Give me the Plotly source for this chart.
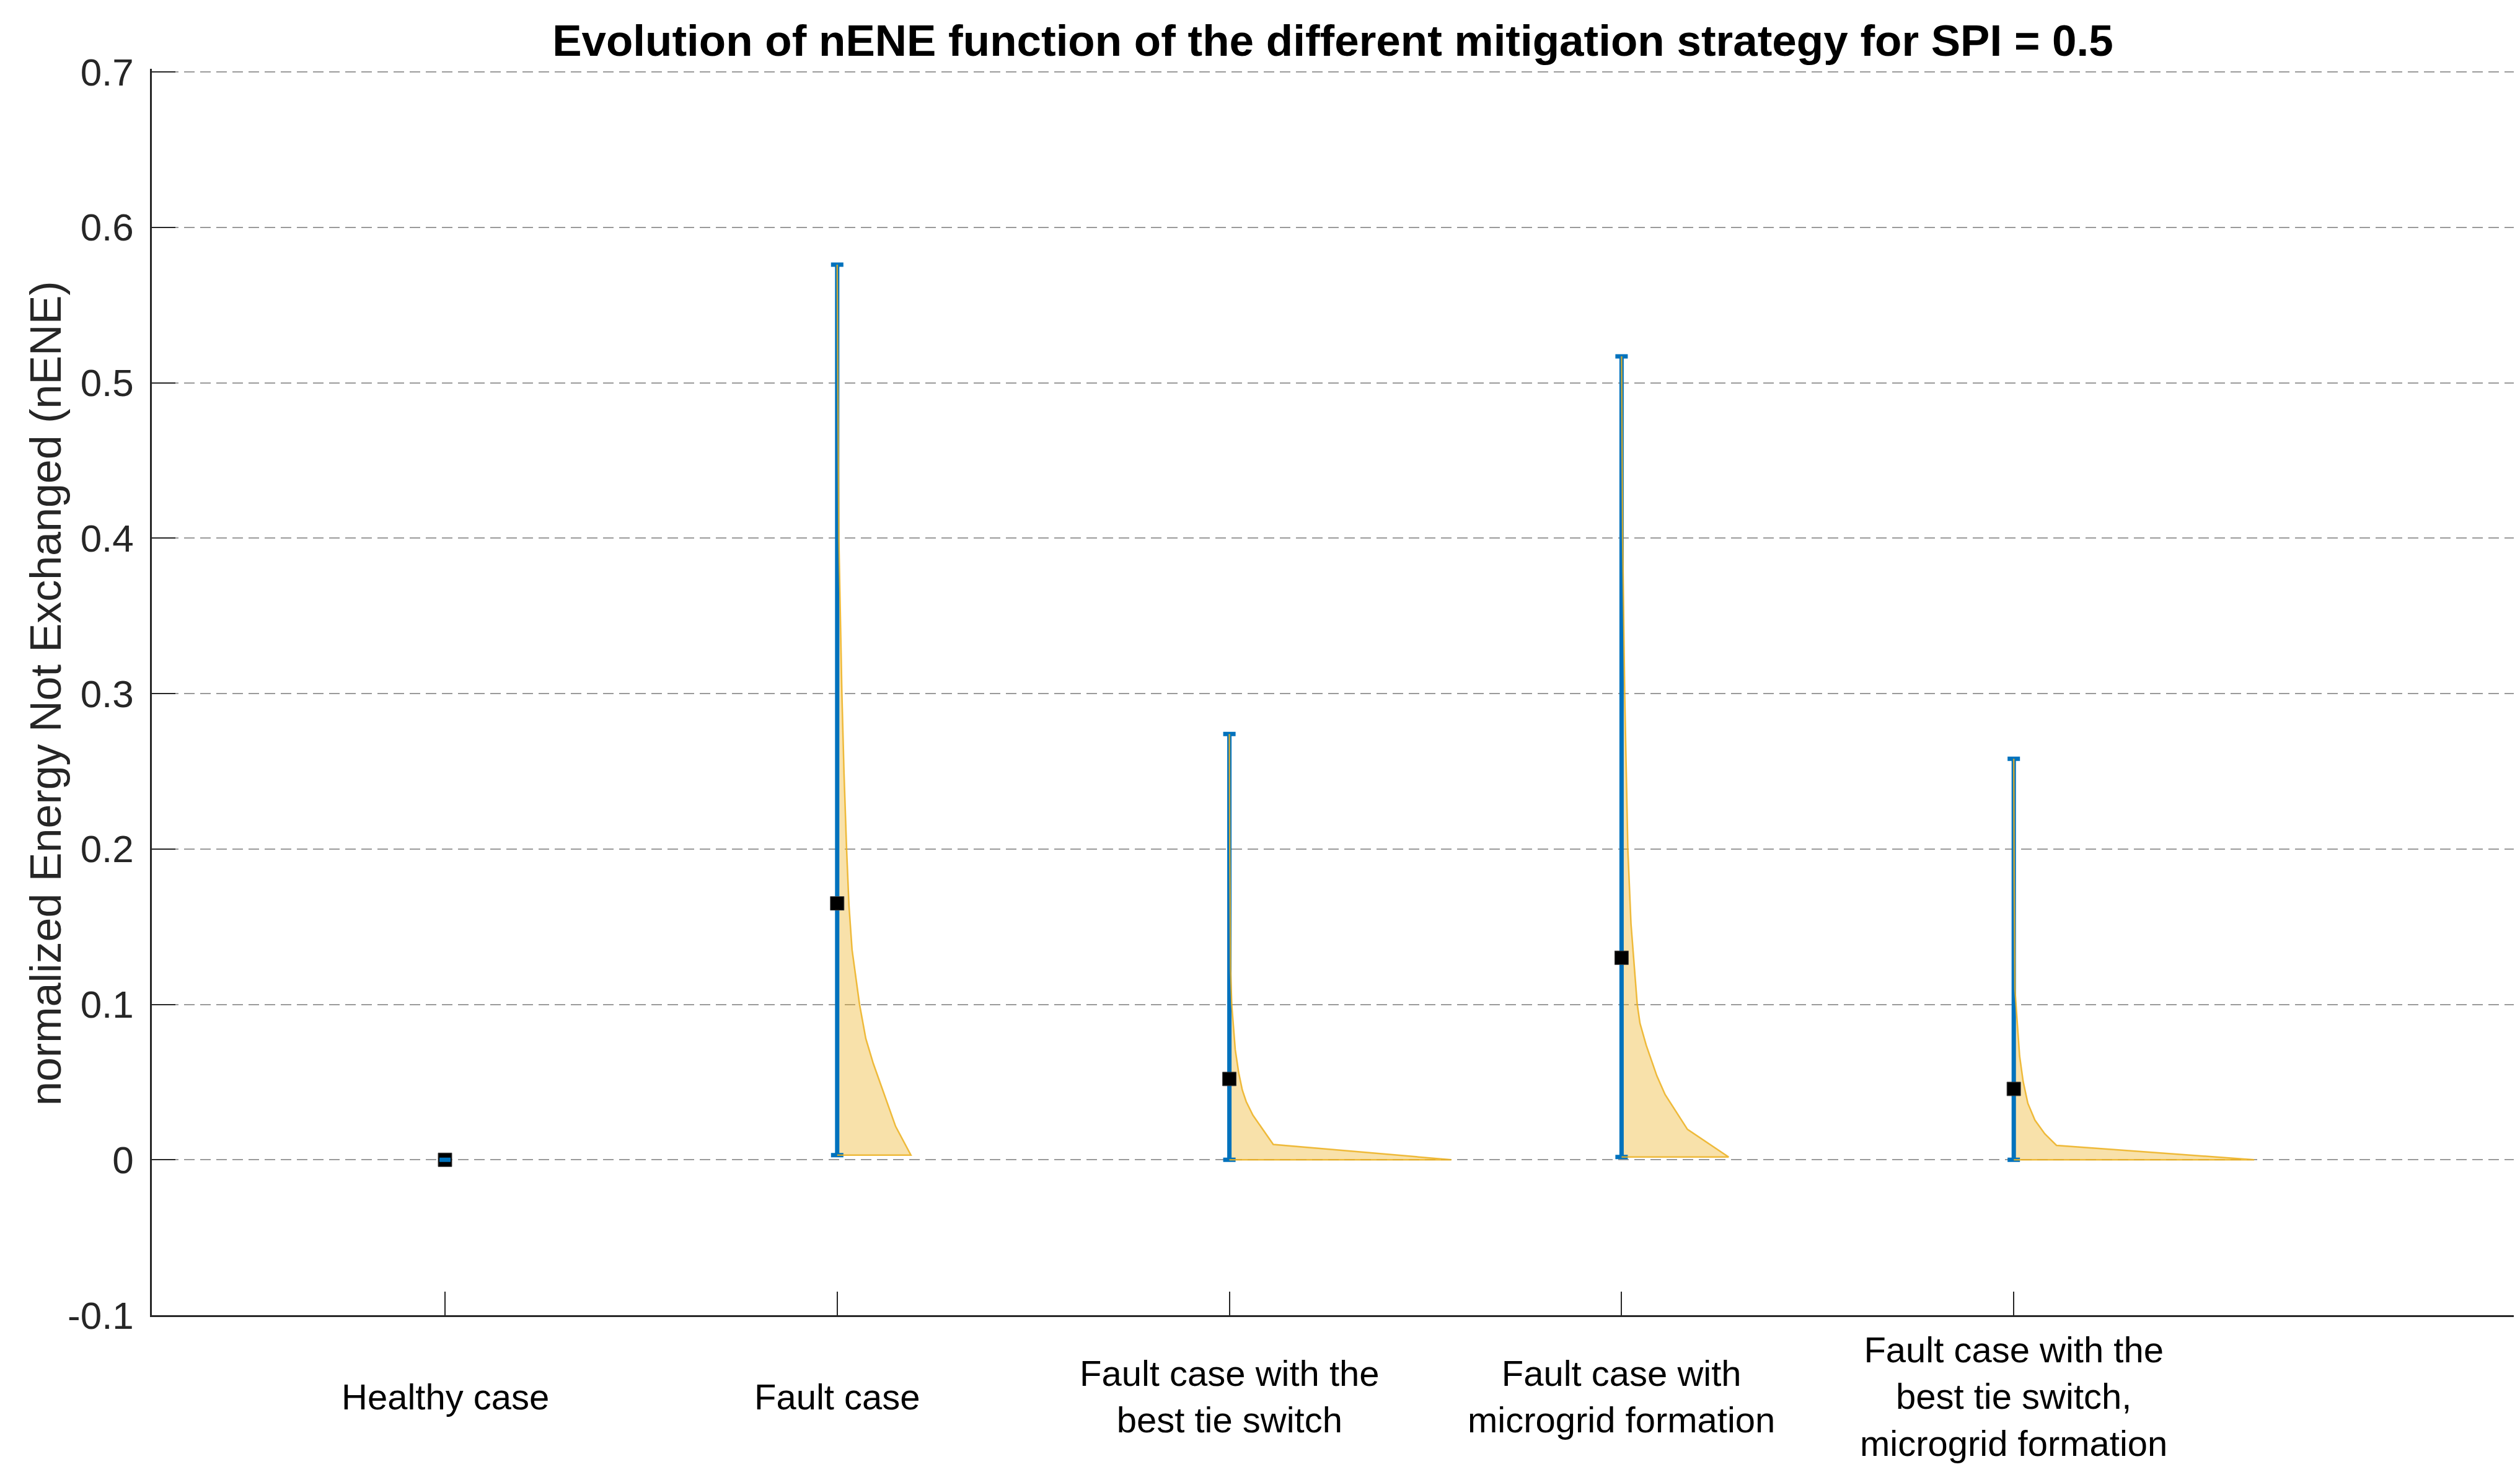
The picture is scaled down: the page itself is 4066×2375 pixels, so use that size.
import plotly.graph_objects as go

# ---------------- data ----------------
categories = [
    "Healthy case",
    "Fault case",
    "Fault case with the<br>best tie switch",
    "Fault case with<br>microgrid formation",
    "Fault case with the<br>best tie switch,<br>microgrid formation",
]
positions = [1, 2, 3, 4, 5]
means = [0.0, 0.165, 0.052, 0.130, 0.0456]
mins = [0.0, 0.003, 0.0, 0.0018, 0.0]
maxs = [0.0, 0.576, 0.274, 0.517, 0.258]

# half-violin profiles: nENE levels and half widths (x units)
fault_y = [0.003, 0.0215, 0.040, 0.062, 0.078, 0.100, 0.135, 0.164, 0.200, 0.249, 0.300, 0.399, 0.500, 0.576]
fault_w = [0.188, 0.149, 0.123, 0.092, 0.073, 0.057, 0.038, 0.030, 0.024, 0.0174, 0.012, 0.0043, 0.0016, 0.0]

tie_y = [0.0, 0.0099, 0.0287, 0.0374, 0.0449, 0.0557, 0.0708, 0.100, 0.1227, 0.200, 0.274]
tie_w = [0.566, 0.112, 0.060, 0.043, 0.033, 0.024, 0.015, 0.006, 0.003, 0.001, 0.0]

micro_y = [0.0018, 0.0196, 0.042, 0.054, 0.0736, 0.0878, 0.100, 0.152, 0.200, 0.300, 0.400, 0.517]
micro_w = [0.273, 0.168, 0.111, 0.090, 0.063, 0.047, 0.040, 0.024, 0.016, 0.008, 0.0027, 0.0]

both_y = [0.0, 0.0093, 0.0168, 0.0255, 0.0363, 0.0503, 0.0667, 0.088, 0.1097, 0.180, 0.258]
both_w = [0.613, 0.109, 0.079, 0.054, 0.036, 0.024, 0.015, 0.009, 0.003, 0.001, 0.0]

y_tick_vals = [-0.1, 0.0, 0.1, 0.2, 0.3, 0.4, 0.5, 0.6, 0.7]
y_tick_text = ["-0.1", "0", "0.1", "0.2", "0.3", "0.4", "0.5", "0.6", "0.7"]

title_text = "Evolution of nENE function of the different mitigation strategy for SPI = 0.5"
y_title = "normalized Energy Not Exchanged (nENE)"

# ---------------- style ----------------
FONT = "Arial, Liberation Sans, Helvetica, sans-serif"
BLUE = "#0072BD"
ORANGE = "#EDB120"
FILL = "rgba(237,177,32,0.38)"
AXC = "#262626"

W, H = 4066, 2375
L, R, T, B = 237, 4066 - 4048, 103, 2375 - 2114
Y_TOP = 0.702  # a little head-room so the 0.7 gridline is drawn

fig = go.Figure()

profiles = [(positions[1], fault_y, fault_w),
            (positions[2], tie_y, tie_w),
            (positions[3], micro_y, micro_w),
            (positions[4], both_y, both_w)]

# violin fills (no outline)
for pos, ys, ws in profiles:
    px = [pos] + [pos + w for w in ws] + [pos]
    py = [ys[0]] + list(ys) + [ys[0]]
    fig.add_trace(go.Scatter(
        x=px, y=py, mode="lines", fill="toself", fillcolor=FILL,
        line=dict(width=0, color="rgba(0,0,0,0)"), showlegend=False, hoverinfo="skip"))

# blue min-max whiskers
fig.add_trace(go.Scatter(
    x=positions, y=means, mode="markers",
    marker=dict(size=2, opacity=0),
    error_y=dict(type="data", symmetric=False,
                 array=[mx - m for mx, m in zip(maxs, means)],
                 arrayminus=[m - mn for m, mn in zip(means, mins)],
                 color=BLUE, thickness=7, width=10),
    showlegend=False, hoverinfo="skip"))

# violin outer outlines
for pos, ys, ws in profiles:
    px = [pos] + [pos + w for w in ws]
    py = [ys[0]] + list(ys)
    fig.add_trace(go.Scatter(
        x=px, y=py, mode="lines",
        line=dict(color=ORANGE, width=2.5), opacity=0.85,
        showlegend=False, hoverinfo="skip"))

# mean markers
fig.add_trace(go.Scatter(
    x=positions, y=means, mode="markers",
    marker=dict(symbol="square", size=22, color="black",
                line=dict(color="#444444", width=1)),
    showlegend=False))

# healthy case whisker caps drawn above its marker
fig.add_trace(go.Scatter(
    x=positions[:1], y=means[:1], mode="markers",
    marker=dict(size=2, opacity=0),
    error_y=dict(type="data", symmetric=False,
                 array=[maxs[0] - means[0]], arrayminus=[means[0] - mins[0]],
                 color=BLUE, thickness=7, width=9),
    showlegend=False, hoverinfo="skip"))

# category labels (vertically centred like the reference)
plot_h = H - T - B
for pos, lab in zip(positions, categories):
    fig.add_annotation(x=pos, y=-(2245 - 2114) / plot_h, xref="x", yref="paper",
                       text=lab, showarrow=False, xanchor="center", yanchor="middle",
                       align="center", font=dict(family=FONT, size=58, color="black"))

# y axis title
fig.add_annotation(x=(66 - L) / (4048 - L), y=1 - (1111 - T) / plot_h,
                   xref="paper", yref="paper",
                   text=y_title, textangle=-90, showarrow=False,
                   xanchor="center", yanchor="middle",
                   font=dict(family=FONT, size=70, color=AXC))

fig.update_layout(
    width=W, height=H,
    margin=dict(l=L, r=R, t=T, b=B, pad=0),
    paper_bgcolor="white", plot_bgcolor="white",
    title=dict(text="<b>" + title_text + "</b>", x=0.5, xref="paper",
               y=1 - 57 / H, yref="container", xanchor="center", yanchor="middle",
               font=dict(family=FONT, size=71, color="black")),
    xaxis=dict(range=[0.2525, 6.275], tickvals=positions, showticklabels=False,
               ticks="inside", ticklen=38, tickwidth=2, tickcolor=AXC,
               showgrid=False, zeroline=False, showline=True, linecolor=AXC,
               linewidth=2.5),
    yaxis=dict(range=[-0.1, Y_TOP], tickvals=y_tick_vals, ticktext=y_tick_text,
               ticks="inside", ticklen=38, tickwidth=2, tickcolor=AXC,
               tickfont=dict(family=FONT, size=62, color=AXC),
               ticklabelstandoff=14,
               showgrid=True, gridcolor="#9a9a9a", gridwidth=2, griddash="17px,9px",
               zeroline=False, showline=True, linecolor=AXC, linewidth=2.5),
    font=dict(family=FONT),
)

fig.write_html("out.html")
